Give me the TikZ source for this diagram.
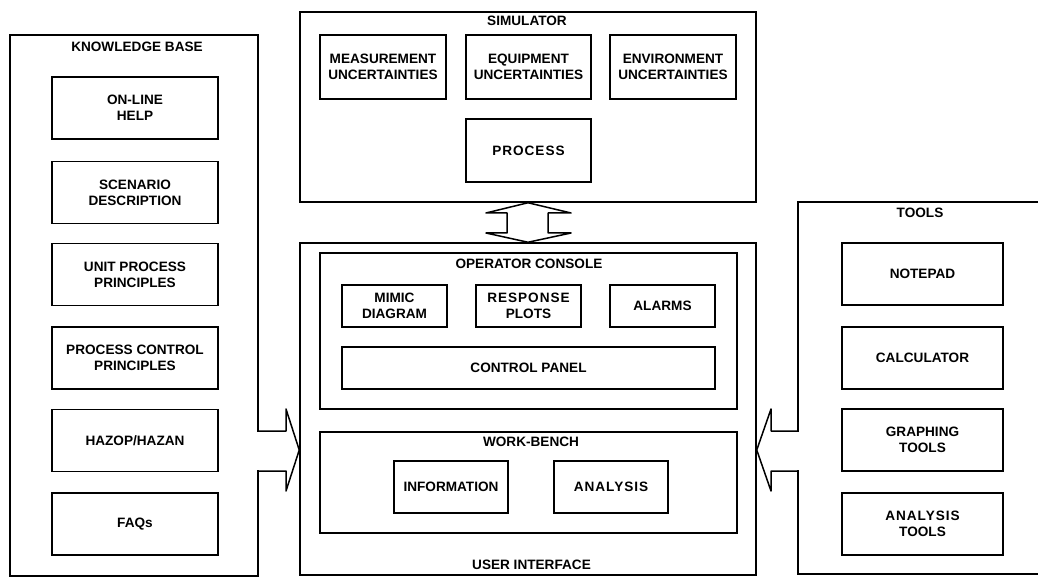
\documentclass[tikz,border=0pt]{standalone}
\usepackage{fontspec}
\setmainfont{Liberation Sans}
\newfontfamily\spacedfont[LetterSpace=7]{Liberation Sans}
\usetikzlibrary{calc}
\tikzset{
  lw/.style={line width=1.5pt},
  frame/.style={draw, lw, inner sep=0pt},
  box/.style={draw, lw, inner sep=0pt, align=center,
    font=\bfseries\fontsize{13.6}{16}\selectfont},
  spacedbox/.style={box, font=\spacedfont\bfseries\fontsize{13.6}{16}\selectfont},
  ttl/.style={inner sep=0pt, font=\bfseries\fontsize{13.6}{16}\selectfont},
  blockarrow/.style={lw, line join=round},
}
\begin{document}
\begin{tikzpicture}[x=1pt,y=-1pt]
\useasboundingbox (0,0) rectangle (1038,577);
\clip (0,0) rectangle (1038,577);

% containers
\node[frame, minimum width=248, minimum height=541] (kb) at (134,305.5) {};
\node[frame, minimum width=456, minimum height=190] (sim) at (528,107) {};
\node[frame, minimum width=456, minimum height=332] (ui) at (528,409) {};
\node[frame, minimum width=262, minimum height=372] (tools) at (929,388) {};
\node[frame, minimum width=417, minimum height=156] (oc) at (528.5,331) {};
\node[frame, minimum width=417, minimum height=101] (wb) at (528.5,482.5) {};

% titles
\node[ttl] (kbt) at (137,47) {KNOWLEDGE BASE};
\node[ttl] (simt) at (527,21) {SIMULATOR};
\node[ttl] (oct) at (529,264) {OPERATOR CONSOLE};
\node[ttl] (wbt) at (531,442) {WORK-BENCH};
\node[ttl] (uit) at (531.5,565) {USER INTERFACE};
\node[ttl] (toolst) at (920,213) {TOOLS};

% knowledge base
\node[box, minimum width=166, minimum height=62] (help) at (135,108) {ON-LINE\\HELP};
\node[box, minimum width=166, minimum height=62] (scen) at (135,192.5) {SCENARIO\\DESCRIPTION};
\node[box, minimum width=166, minimum height=62] (unit) at (135,274.5) {UNIT PROCESS\\PRINCIPLES};
\node[box, minimum width=166, minimum height=62] (pcp) at (135,358) {PROCESS CONTROL\\PRINCIPLES};
\node[box, minimum width=166, minimum height=62] (hazop) at (135,440.5) {HAZOP/HAZAN};
\node[box, minimum width=166, minimum height=62] (faqs) at (135,524) {FAQs};

% simulator
\node[box, minimum width=126, minimum height=64] (meas) at (383,67) {MEASUREMENT\\UNCERTAINTIES};
\node[box, minimum width=125, minimum height=64] (equip) at (528.5,67) {EQUIPMENT\\UNCERTAINTIES};
\node[box, minimum width=126, minimum height=64] (env) at (673,67) {ENVIRONMENT\\UNCERTAINTIES};
\node[spacedbox, minimum width=125, minimum height=63] (proc) at (528.5,150.5) {PROCESS};

% operator console
\node[box, minimum width=105, minimum height=42] (mimic) at (394.5,306) {MIMIC\\DIAGRAM};
\node[box, minimum width=105, minimum height=42] (resp) at (528.5,306) {{\spacedfont RESPONSE}\\PLOTS};
\node[box, minimum width=105, minimum height=42] (alarms) at (662.5,306) {ALARMS};
\node[box, minimum width=373, minimum height=42] (cpanel) at (528.5,368) {CONTROL PANEL};

% work-bench
\node[box, minimum width=114, minimum height=52] (info) at (451,487) {INFORMATION};
\node[spacedbox, minimum width=114, minimum height=52] (anal) at (611,487) {ANALYSIS};

% tools
\node[box, minimum width=161, minimum height=62] (notepad) at (922.5,274) {NOTEPAD};
\node[box, minimum width=161, minimum height=62] (calc) at (922.5,358) {CALCULATOR};
\node[box, minimum width=161, minimum height=62] (graph) at (922.5,440) {GRAPHING\\TOOLS};
\node[box, minimum width=161, minimum height=62] (antools) at (922.5,524) {{\spacedfont ANALYSIS}\\TOOLS};

% block arrow: knowledge base -> user interface
\fill[white] (255,432.4) rectangle (262,469.6);
\draw[blockarrow] (kb.east |- 0,431) -- (286,431) -- (286,409)
  -- (ui.west |- 0,450) -- (286,491) -- (286,471) -- (kb.east |- 0,471);

% block arrow: tools -> user interface
\fill[white] (794,432.4) rectangle (801,469.6);
\draw[blockarrow] (tools.west |- 0,431) -- (771,431) -- (771,409)
  -- (ui.east |- 0,450) -- (771,491) -- (771,471) -- (tools.west |- 0,471);

% double block arrow: simulator <-> user interface
\draw[blockarrow, fill=white] (sim.south) -- (571,213) -- (548,213) -- (548,233)
  -- (571,233) -- (ui.north) -- (486,233) -- (507,233) -- (507,213) -- (486,213) -- cycle;
\end{tikzpicture}
\end{document}
